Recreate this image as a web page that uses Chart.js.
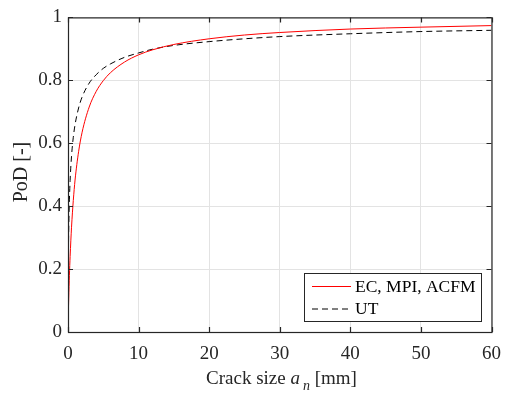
<!DOCTYPE html>
<html><head><meta charset="utf-8">
<script src="https://cdn.jsdelivr.net/npm/chart.js@4/dist/chart.umd.min.js"></script>
<style>html,body{margin:0;padding:0;background:#fff}#wrap{width:512px;height:393px}</style>
</head><body><div id="wrap"><canvas id="c" width="512" height="393"></canvas></div>
<script>
const crackSizes = [0, 0.01, 0.02, 0.05, 0.1, 0.2, 0.3, 0.5, 0.75, 1, 1.5, 2, 3, 4, 5, 6, 8, 10, 12, 15, 20, 25, 30, 40, 50, 60];
const podEC = [0, 0.012, 0.025, 0.059, 0.105, 0.180, 0.240, 0.333, 0.418, 0.483, 0.573, 0.635, 0.715, 0.765, 0.799, 0.824, 0.858, 0.881, 0.897, 0.914, 0.932, 0.944, 0.952, 0.963, 0.969, 0.974];
const podUT = [0, 0.104, 0.151, 0.237, 0.322, 0.420, 0.482, 0.559, 0.619, 0.659, 0.712, 0.747, 0.791, 0.818, 0.838, 0.852, 0.873, 0.887, 0.899, 0.911, 0.923, 0.932, 0.939, 0.948, 0.955, 0.959];
const seriesLabels = ['EC, MPI, ACFM', 'UT'];
const xTicks = [0, 10, 20, 30, 40, 50, 60];
const yTicks = [0, 0.2, 0.4, 0.6, 0.8, 1];
const yTitle = 'PoD [-]';

const FONT = "'Liberation Serif', 'Times New Roman', serif";
const AX = '#262626';

const framePlugin = {
  id: 'frame',
  afterDatasetsDraw(chart) {
    const ctx = chart.ctx, a = chart.chartArea;
    const xs = chart.scales.x, ys = chart.scales.y;
    ctx.save();
    ctx.strokeStyle = AX; ctx.lineWidth = 1.2;
    ctx.strokeRect(a.left + 0.5, a.top + 0.5, a.right - a.left, a.bottom - a.top);
    const L = 5;
    ctx.beginPath();
    xTicks.forEach(v => {
      const p = Math.round(xs.getPixelForValue(v)) + 0.5;
      ctx.moveTo(p, a.bottom); ctx.lineTo(p, a.bottom - L);
      ctx.moveTo(p, a.top); ctx.lineTo(p, a.top + L);
    });
    yTicks.forEach(v => {
      const p = Math.round(ys.getPixelForValue(v)) + 0.5;
      ctx.moveTo(a.left, p); ctx.lineTo(a.left + L, p);
      ctx.moveTo(a.right, p); ctx.lineTo(a.right - L, p);
    });
    ctx.stroke();
    // legend
    const bx = 304, by = 273, bw = 177, bh = 48;
    ctx.fillStyle = '#fff';
    ctx.fillRect(bx, by, bw, bh);
    ctx.strokeStyle = AX; ctx.lineWidth = 1;
    ctx.strokeRect(bx + 0.5, by + 0.5, bw, bh);
    ctx.font = '17.5px ' + FONT;
    ctx.textBaseline = 'middle';
    ctx.fillStyle = '#000';
    chart.data.datasets.forEach((ds, i) => {
      const cy = by + 13 + i * 22.5;
      ctx.strokeStyle = ds.borderColor; ctx.lineWidth = 1;
      ctx.setLineDash(ds.borderDash || []);
      ctx.beginPath(); ctx.moveTo(bx + 8, cy + 0.5); ctx.lineTo(bx + 47, cy + 0.5); ctx.stroke();
      ctx.setLineDash([]);
      ctx.fillText(ds.label, bx + 51, cy + 1);
    });
    // x axis title with italic subscript
    const parts = [
      {t: 'Crack size ', f: '19px ' + FONT, dy: 0, gap: 0},
      {t: 'a', f: 'italic 19px ' + FONT, dy: 0, gap: 3},
      {t: 'n', f: 'italic 14px ' + FONT, dy: 6, gap: 0},
      {t: ' [mm]', f: '19px ' + FONT, dy: 0, gap: 0}
    ];
    let w = 0;
    parts.forEach(p => { ctx.font = p.f; p.w = ctx.measureText(p.t).width; w += p.w + p.gap; });
    let x = 281.5 - w / 2;
    const ty = 384;
    ctx.fillStyle = AX; ctx.textBaseline = 'alphabetic'; ctx.textAlign = 'left';
    parts.forEach(p => { ctx.font = p.f; ctx.fillText(p.t, x, ty + p.dy); x += p.w + p.gap; });
    // y axis title
    ctx.translate(22, 172);
    ctx.rotate(-Math.PI / 2);
    ctx.font = '20px ' + FONT;
    ctx.textAlign = 'center'; ctx.textBaseline = 'middle';
    ctx.fillText(yTitle, 0, 0);
    ctx.restore();
  }
};

new Chart(document.getElementById('c'), {
  type: 'line',
  data: {
    datasets: [
      {label: seriesLabels[0], data: crackSizes.map((x, i) => ({x, y: podEC[i]})), borderColor: '#ff0000', borderWidth: 1, pointRadius: 0, fill: false, cubicInterpolationMode: 'monotone'},
      {label: seriesLabels[1], data: crackSizes.map((x, i) => ({x, y: podUT[i]})), borderColor: '#000000', borderWidth: 1, borderDash: [6, 4], pointRadius: 0, fill: false, cubicInterpolationMode: 'monotone'}
    ]
  },
  options: {
    responsive: false, animation: false,
    layout: {padding: {top: 15, right: 17.5, left: 0, bottom: 0}},
    plugins: {legend: {display: false}, tooltip: {enabled: false}},
    scales: {
      x: {
        type: 'linear', min: 0, max: 60,
        afterBuildTicks: s => { s.ticks = xTicks.map(v => ({value: v})); },
        afterFit: s => { s.height = 61; },
        grid: {color: '#e3e3e3', drawTicks: false},
        border: {display: false},
        ticks: {padding: 11, color: AX, font: {family: FONT, size: 19}, maxRotation: 0}
      },
      y: {
        min: 0, max: 1,
        afterBuildTicks: s => { s.ticks = yTicks.map(v => ({value: v})); },
        afterFit: s => { s.width = 68; },
        grid: {color: '#e3e3e3', drawTicks: false},
        border: {display: false},
        ticks: {padding: 6, color: AX, font: {family: FONT, size: 19}, callback: v => String(v)}
      }
    }
  },
  plugins: [framePlugin]
});
</script>
</body></html>
